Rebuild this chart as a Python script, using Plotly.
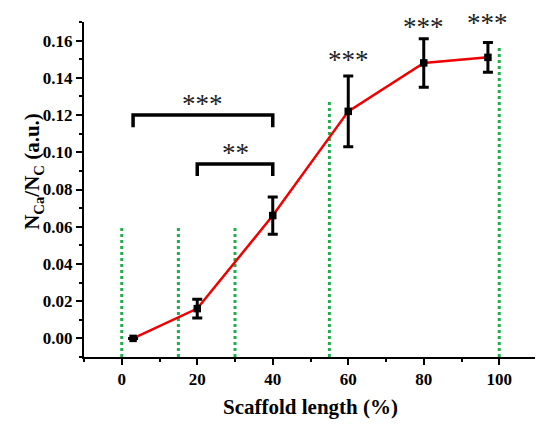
import plotly.graph_objects as go

# Data
scaffold_length = [3, 20, 40, 60, 80, 97]
ratio = [0.000, 0.016, 0.066, 0.122, 0.148, 0.151]
ratio_err = [0.0, 0.005, 0.010, 0.019, 0.013, 0.008]

# Green dotted reference lines
ref_x = [0, 15, 30, 55, 100]
ref_top = [0.060, 0.060, 0.060, 0.128, 0.156]
ref_bottom = -0.01

# Significance brackets
bracket_start = [3, 20]
bracket_end = [40, 40]
bracket_height = [0.120, 0.0937]
bracket_leg = [0.0065, 0.0065]
bracket_label = ["***", "**"]

# Star labels above points (y in data units)
star_x = [60, 80, 97]
star_y = [0.152, 0.1695, 0.1716]
star_label = ["***", "***", "***"]

SERIF = "Times New Roman"
Y_MIN, Y_MAX = -0.01, 0.17

fig = go.Figure()

green = "rgb(30,175,75)"
for x, top in zip(ref_x, ref_top):
    fig.add_trace(go.Scatter(x=[x, x], y=[ref_bottom, top], mode="lines",
                             line=dict(color=green, width=3, dash="dot"),
                             hoverinfo="skip", showlegend=False, cliponaxis=False))

fig.add_trace(go.Scatter(x=scaffold_length, y=ratio, mode="lines",
                         line=dict(color="rgb(240,0,0)", width=2.5),
                         showlegend=False))
fig.add_trace(go.Scatter(x=scaffold_length, y=ratio, mode="markers",
                         marker=dict(symbol="square", size=7.5, color="black"),
                         error_y=dict(type="data", array=ratio_err, visible=True,
                                      color="black", thickness=3, width=5),
                         showlegend=False))

for s, e, h, d, lab in zip(bracket_start, bracket_end, bracket_height, bracket_leg, bracket_label):
    fig.add_trace(go.Scatter(x=[s, s, e, e], y=[h - d, h, h, h - d], mode="lines",
                             line=dict(color="black", width=3.5),
                             hoverinfo="skip", showlegend=False))
    fig.add_annotation(x=(s + e) / 2, y=h, text=lab, showarrow=False,
                       yanchor="bottom", yshift=-6,
                       font=dict(family=SERIF, size=27, color="#222"))

for x, y, lab in zip(star_x, star_y, star_label):
    yp = (y - Y_MIN) / (Y_MAX - Y_MIN)
    fig.add_annotation(x=x, xref="x", y=yp, yref="paper", text=lab,
                       showarrow=False, yanchor="middle", yshift=-4,
                       font=dict(family=SERIF, size=27, color="#222"))

# Axis titles as annotations
fig.add_annotation(xref="paper", yref="paper", x=0.5, y=0, yshift=-50,
                   yanchor="middle", text="<b>Scaffold length (%)</b>", showarrow=False,
                   font=dict(family=SERIF, size=21, color="black"))
fig.add_annotation(xref="paper", yref="y", x=0, xshift=-66, y=0.0895,
                   textangle=-90, text="<b>N<sub>Ca</sub>/N<sub>C</sub> (a.u.)</b>",
                   showarrow=False,
                   font=dict(family=SERIF, size=21, color="black"))

axis_font = dict(family=SERIF, size=17, color="black", weight="bold")
fig.update_xaxes(range=[-10, 110], tickvals=[0, 20, 40, 60, 80, 100],
                 showgrid=False, zeroline=False, showline=True, linecolor="black",
                 linewidth=2, ticks="outside", ticklen=6, tickwidth=2,
                 tickcolor="black", tickfont=axis_font,
                 minor=dict(ticks="outside", ticklen=3, tickwidth=1.5,
                            tickcolor="black", dtick=10, tick0=0))
fig.update_yaxes(range=[Y_MIN, Y_MAX],
                 tickvals=[0, 0.02, 0.04, 0.06, 0.08, 0.10, 0.12, 0.14, 0.16],
                 tickformat=".2f", showgrid=False, zeroline=False, showline=True,
                 linecolor="black", linewidth=2, ticks="outside", ticklen=6,
                 tickwidth=2, tickcolor="black", tickfont=axis_font,
                 minor=dict(ticks="outside", ticklen=3, tickwidth=1.5,
                            tickcolor="black", dtick=0.01, tick0=0))

# page body adds an 8px offset, so the figure is sized/margined to compensate
fig.update_layout(width=535, height=418, margin=dict(l=76, r=6, t=14, b=69),
                  plot_bgcolor="white", paper_bgcolor="white",
                  font=dict(family=SERIF))

fig.write_html("out.html")
